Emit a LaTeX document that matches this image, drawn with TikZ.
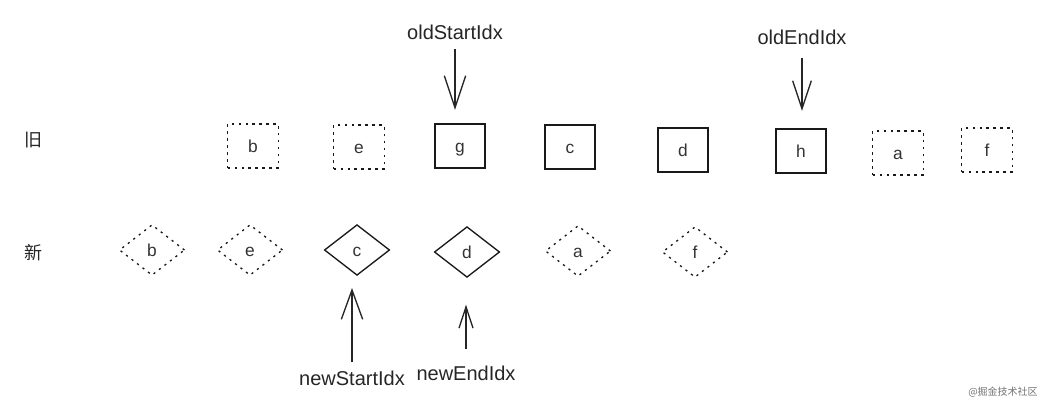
\documentclass[tikz,border=0pt]{standalone}
\usepackage{fontspec}
\setmainfont{Liberation Sans}
\newfontfamily\cjk{Noto Sans CJK SC}
\usetikzlibrary{positioning,arrows.meta,shapes.geometric}

\begin{document}
\begin{tikzpicture}[
    x=0.75pt, y=-0.75pt,
    oldbox/.style={
        rectangle, draw=black!90, line width=1.3pt,
        minimum width=38pt, minimum height=33pt, inner sep=0pt,
        text height=10pt, text depth=0pt,
        font=\fontsize{13}{13}\selectfont, text=black!80
    },
    olddot/.style={oldbox, line width=1pt, dash pattern=on 2pt off 3.2pt},
    newbox/.style={
        diamond, draw=black!90, line width=1pt,
        minimum width=49pt, minimum height=38pt, inner sep=0pt,
        text height=10pt, text depth=0pt,
        font=\fontsize{13}{13}\selectfont, text=black!80
    },
    newdot/.style={newbox, line width=1pt, dash pattern=on 1.6pt off 3.6pt},
    idx/.style={font=\fontsize{15}{15}\selectfont, text=black!85, inner sep=0pt, anchor=base},
    row/.style={font=\cjk\fontsize{13.5}{13.5}\selectfont, text=black!85},
    ptr/.style={line width=1pt, draw=black!85},
    wmark/.style={font=\cjk\fontsize{7.5}{7.5}\selectfont, text=black!55},
]
\useasboundingbox (0,0) rectangle (1048,404);

% ── Row labels ──
\node[row] (oldrow) at (33,140) {旧};
\node[row] (newrow) at (33,253) {新};

% ── Old children ──
\node[olddot] (ob) at (253,146) {b};
\node[olddot] (oe) at (359,147) {e};
\node[oldbox] (og) at (460,146) {g};
\node[oldbox] (oc) at (570,147) {c};
\node[oldbox] (od) at (683,150) {d};
\node[oldbox] (oh) at (801,151) {h};
\node[olddot] (oa) at (898,153) {a};
\node[olddot] (of) at (987,150) {f};

% ── New children ──
\node[newdot] (nb) at (152,250) {b};
\node[newdot] (ne) at (250,250) {e};
\node[newbox] (nc) at (357,250) {c};
\node[newbox] (nd) at (467,252) {d};
\node[newdot] (na) at (578,251) {a};
\node[newdot] (nf) at (695,252) {f};

% ── Old pointers ──
\node[idx] (osi) at (455,39) {oldStartIdx};
\node[idx] (oei) at (802,44) {oldEndIdx};
\draw[ptr, -{Straight Barb[length=24pt,width=16pt]}, shorten <=7pt, shorten >=10pt]
    (osi.south) -- (osi.south |- og.north);
\draw[ptr, -{Straight Barb[length=21pt,width=14pt]}, shorten <=10pt, shorten >=13pt]
    (oei.south) -- (oei.south |- oh.north);

% ── New pointers ──
\node[idx] (nsi) at (352,385) {newStartIdx};
\node[idx] (nei) at (466,380) {newEndIdx};
\draw[ptr, -{Straight Barb[length=22pt,width=16pt]}, shorten <=6pt, shorten >=9pt]
    (nsi.north) -- (nsi.north |- nc.south);
\draw[ptr, -{Straight Barb[length=16pt,width=10.5pt]}, shorten <=12pt, shorten >=20pt]
    (nei.north) -- (nei.north |- nd.south);

% watermark
\node[wmark] (wm) at (1003,392) {@掘金技术社区};

\end{tikzpicture}
\end{document}
